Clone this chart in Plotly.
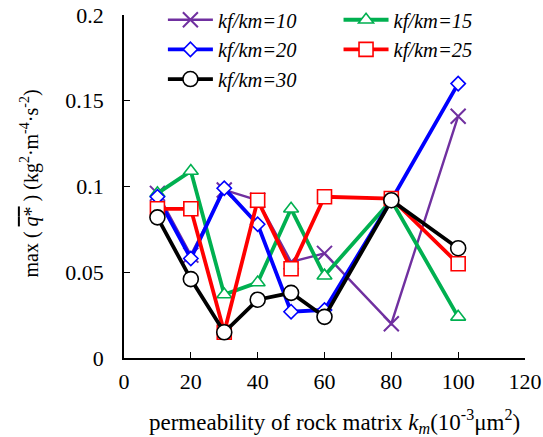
import plotly.graph_objects as go

# permeability of rock matrix k_m (10^-3 um^2)
km = [10, 20, 30, 40, 50, 60, 80, 100]

# max(q*) for each kf/km ratio
q_10 = [0.096, 0.060, 0.098, 0.092, 0.056, 0.061, 0.020, 0.141]
q_15 = [0.096, 0.109, 0.037, 0.044, 0.087, 0.048, 0.092, 0.024]
q_20 = [0.094, 0.058, 0.099, 0.078, 0.027, 0.028, 0.092, 0.160]
q_25 = [0.087, 0.087, 0.015, 0.092, 0.052, 0.094, 0.093, 0.055]
q_30 = [0.082, 0.046, 0.015, 0.034, 0.038, 0.024, 0.092, 0.064]

x_ticks = [0, 20, 40, 60, 80, 100, 120]
y_ticks = [0, 0.05, 0.1, 0.15, 0.2]
y_tick_text = ["0", "0.05", "0.1", "0.15", "0.2"]

x_title = "permeability of rock matrix <i>k<sub>m</sub></i>(10<sup>-3</sup>μm<sup>2</sup>)"
y_title = ("max ( <span style=\"text-decoration:overline\"><i>q</i>*</span> ) "
           "(kg<sup>2</sup>·m<sup>-4</sup>·s<sup>-2</sup>)")

# name, values, colour, marker symbol, marker size, line width, legend column
series = [
    ("kf/km=10", q_10, "#7030A0", "x-thin-open", 15, 2.4, "legend"),
    ("kf/km=15", q_15, "#00B050", "triangle-up", 13, 3.8, "legend2"),
    ("kf/km=20", q_20, "#0000FF", "diamond", 11, 3.8, "legend"),
    ("kf/km=25", q_25, "#FF0000", "square", 14, 3.8, "legend2"),
    ("kf/km=30", q_30, "#000000", "circle", 15, 3.8, "legend"),
]

FONT = "Liberation Serif"

fig = go.Figure()
for name, ys, color, symbol, size, width, leg in series:
    if symbol.endswith("-open"):
        marker = dict(symbol=symbol, size=size, color=color,
                      line=dict(color=color, width=2))
    else:
        # white-filled marker with coloured outline
        marker = dict(symbol=symbol, size=size, color="white",
                      line=dict(color=color, width=1.6))
    fig.add_trace(go.Scatter(
        x=km, y=ys, name=name, mode="lines+markers", legend=leg,
        line=dict(color=color, width=width), marker=marker,
    ))

legend_style = dict(
    orientation="v", yanchor="top", xanchor="left", y=1.044,
    font=dict(family=FONT, size=20.5, style="italic"),
    bgcolor="rgba(0,0,0,0)", tracegroupgap=0, itemwidth=45,
)

fig.update_layout(
    width=543, height=437,
    margin=dict(l=124, r=18, t=15, b=79, autoexpand=False),
    paper_bgcolor="white", plot_bgcolor="white",
    font=dict(family=FONT, size=20, color="black"),
    showlegend=True,
    legend=dict(x=0.097, **legend_style),
    legend2=dict(x=0.535, **legend_style),
    xaxis=dict(
        range=[0, 120], tickvals=x_ticks, ticks="inside", ticklen=6,
        tickwidth=1.3, tickcolor="black", showline=True, linecolor="black",
        linewidth=1.5, showgrid=False, zeroline=False, mirror=False,
        tickfont=dict(size=22), ticklabelstandoff=3,
        ticklabeloverflow="allow", automargin=False,
    ),
    yaxis=dict(
        range=[0, 0.2], tickvals=y_ticks, ticktext=y_tick_text, ticks="inside",
        ticklen=6, tickwidth=1.3, tickcolor="black", showline=True,
        linecolor="black", linewidth=1.5, showgrid=False, zeroline=False,
        tickfont=dict(size=22), ticklabelstandoff=14, automargin=False,
    ),
    annotations=[
        dict(text=x_title, xref="paper", yref="paper", x=0.5237, y=-0.186,
             xanchor="center", yanchor="middle", showarrow=False,
             font=dict(size=23)),
        dict(text=y_title, xref="paper", yref="paper", x=-0.2344, y=0.5087,
             xanchor="center", yanchor="middle", showarrow=False,
             textangle=-90, font=dict(size=20)),
    ],
)

fig.write_html("out.html")
